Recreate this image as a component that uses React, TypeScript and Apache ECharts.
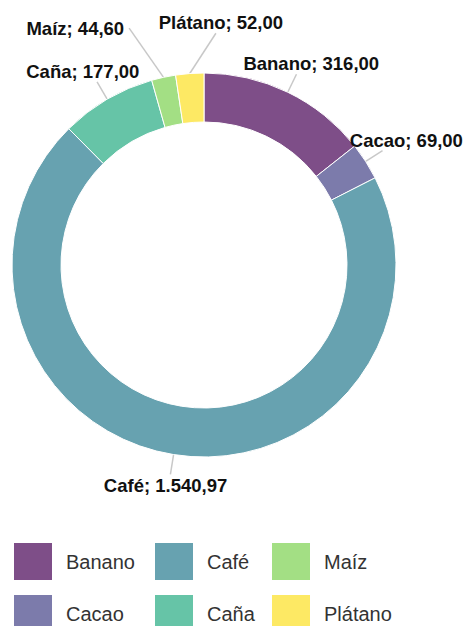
import React, { useEffect, useRef } from "react";
import * as echarts from "echarts";

const categories = ["Banano", "Cacao", "Café", "Caña", "Maíz", "Plátano"];
const values = [316.0, 69.0, 1540.97, 177.0, 44.6, 52.0];
const colors = ["#7e4e88", "#7c7bab", "#67a2b0", "#66c4a7", "#a3df84", "#fde964"];
const legendColumns = [
  ["Banano", "Cacao"],
  ["Café", "Caña"],
  ["Maíz", "Plátano"],
];

const FONT = "'Liberation Sans', Arial, Helvetica, sans-serif";

function fmt(v: number): string {
  const [i, d] = v.toFixed(2).split(".");
  return i.replace(/\B(?=(\d{3})+(?!\d))/g, ".") + "," + d;
}

// label placement tweaks for crowded slices (angle of the leader line from vertical, degrees)
const labelTweaks: Record<string, { angle: number; length: number; fx: number; fy: number; gx: number }> = {
  "Maíz": { angle: -35, length: 60, fx: 1, fy: 0.5, gx: -5 },
  "Plátano": { angle: 33, length: 48, fx: 0.46, fy: 1, gx: 0 },
};

export default function App() {
  const ref = useRef<HTMLDivElement>(null);
  useEffect(() => {
    if (!ref.current) return;
    const chart = echarts.init(ref.current, undefined, { renderer: "svg" });
    const legendLefts = [12, 153, 270];
    const legendTops = [541, 593];
    const legends: any[] = [];
    legendColumns.forEach((col, k) => {
      col.forEach((name, r) => {
        legends.push({
          data: [name],
          orient: "horizontal",
          left: legendLefts[k],
          top: legendTops[r],
          padding: 0,
          icon: "rect",
          itemWidth: 40,
          itemHeight: 39,
          selectedMode: false,
          textStyle: { fontSize: 20, color: "#333", fontFamily: FONT, padding: [0, 0, 0, 8] },
        });
      });
    });
    chart.setOption({
      animation: false,
      color: colors,
      legend: legends,
      series: [
        {
          type: "pie",
          center: [204, 265],
          radius: [143, 192],
          startAngle: 90,
          clockwise: true,
          avoidLabelOverlap: false,
          silent: true,
          itemStyle: { borderColor: "#fff", borderWidth: 1 },
          label: {
            show: true,
            position: "outside",
            fontSize: 18.5,
            fontWeight: "bold",
            color: "#111",
            fontFamily: FONT,
            formatter: (p: any) => `${p.name}; ${fmt(p.value)}`,
          },
          labelLine: {
            show: true,
            length: 20,
            length2: 0,
            smooth: false,
            lineStyle: { color: "#c8c8c8", width: 1.5 },
          },
          labelLayout: (p: any) => {
            const pts = p.labelLinePoints;
            if (!pts || !p.labelRect) return {};
            const sx = pts[0][0];
            const sy = pts[0][1];
            let ex = pts[1][0];
            let ey = pts[1][1];
            let ux = ex - sx;
            let uy = ey - sy;
            const len = Math.hypot(ux, uy) || 1;
            ux /= len;
            uy /= len;
            let fx = 0.5 - 0.25 * ux;
            let fy = uy < 0 ? 1 : 0;
            let gx = 0;
            let gy = fy === 1 ? -1 : 2;
            const t = labelTweaks[categories[p.dataIndex]];
            if (t) {
              const a = (t.angle * Math.PI) / 180;
              ex = sx + t.length * Math.sin(a);
              ey = sy - t.length * Math.cos(a);
              fx = t.fx;
              fy = t.fy;
              gx = t.gx;
              gy = fy === 1 ? -1 : 0;
            }
            const w = p.labelRect.width;
            const h = p.labelRect.height;
            return {
              x: ex - fx * w + gx,
              y: ey - fy * h + gy,
              align: "left",
              verticalAlign: "top",
              labelLinePoints: [
                [sx, sy],
                [ex, ey],
                [ex, ey],
              ],
            };
          },
          data: categories.map((name, i) => ({ name, value: values[i] })),
        },
      ],
    });
    return () => chart.dispose();
  }, []);
  return (
    <div
      ref={ref}
      style={{ position: "fixed", left: 0, top: 0, width: 463, height: 626, background: "#fff" }}
    />
  );
}
